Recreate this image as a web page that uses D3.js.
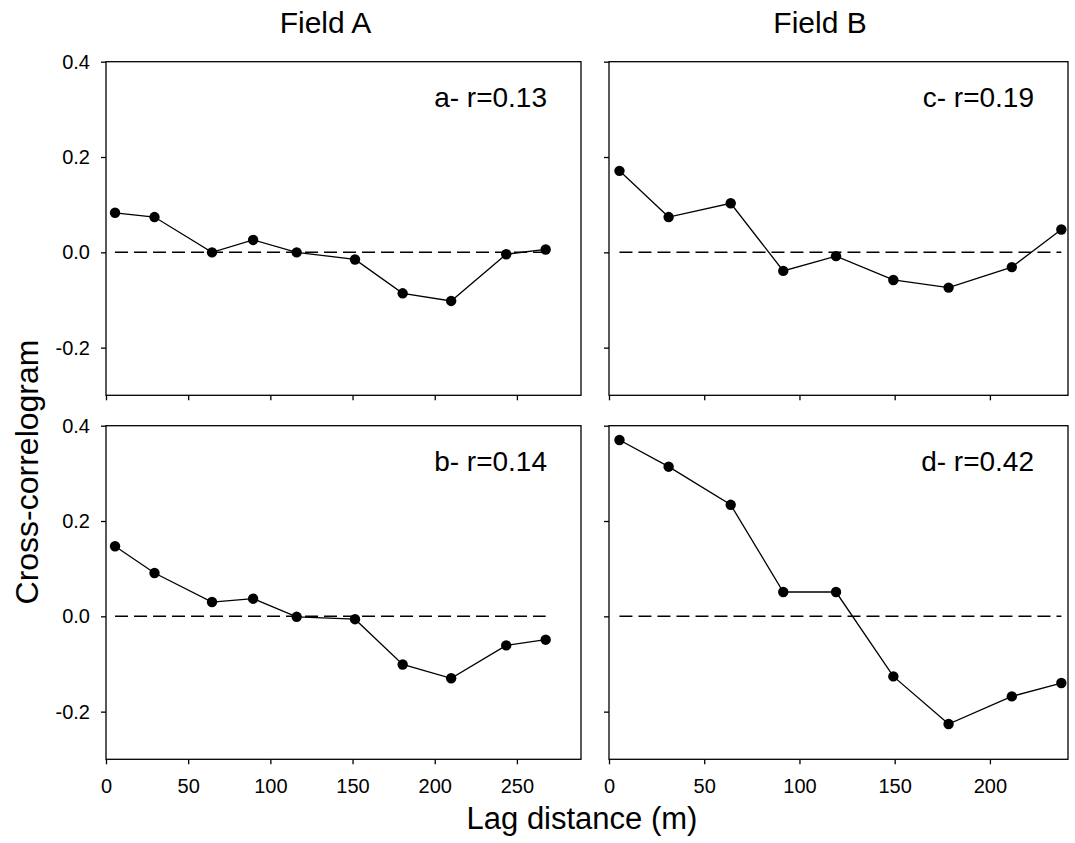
<!DOCTYPE html>
<html>
<head>
<meta charset="utf-8">
<script src="https://cdn.jsdelivr.net/npm/d3@7"></script>
<style>
  html, body { margin: 0; padding: 0; background: #fff; }
  svg { display: block; font-family: "Liberation Sans", Arial, sans-serif; }
</style>
</head>
<body>
<svg id="chart" width="1075" height="843"></svg>
<script>
// Lag distances (m) for each field
const lagsFieldA = [5.5, 29.5, 64.5, 89.5, 116, 151.5, 180.5, 210, 243.5, 267.5];
const lagsFieldB = [5.5, 31.3, 63.9, 91.5, 119.2, 149.3, 178.3, 211.5, 237.5];

// Cross-correlogram values per panel
const seriesA = [0.083, 0.074, 0.0, 0.026, 0.0, -0.015, -0.086, -0.102, -0.004, 0.006];
const seriesB = [0.147, 0.091, 0.030, 0.037, -0.001, -0.006, -0.101, -0.130, -0.061, -0.049];
const seriesC = [0.171, 0.074, 0.103, -0.039, -0.008, -0.058, -0.074, -0.031, 0.048];
const seriesD = [0.370, 0.314, 0.234, 0.051, 0.051, -0.126, -0.226, -0.168, -0.140];

const panelLabels = ["a- r=0.13", "b- r=0.14", "c- r=0.19", "d- r=0.42"];
const columnTitles = ["Field A", "Field B"];
const yTickValues = [-0.2, 0.0, 0.2, 0.4];
const xTicksFieldA = [0, 50, 100, 150, 200, 250];
const xTicksFieldB = [0, 50, 100, 150, 200];

const svg = d3.select("#chart");

// Panel frames
const cols = [
  { x0: 106, x1: 581, domain: [0, 289], lags: lagsFieldA, ticks: xTicksFieldA, titleX: 325.5 },
  { x0: 609, x1: 1068, domain: [0, 241], lags: lagsFieldB, ticks: xTicksFieldB, titleX: 820 }
];
const rows = [
  { y0: 61.7, y1: 395.3 },
  { y0: 425.7, y1: 759.3 }
];

const panels = [
  { col: 0, row: 0, values: seriesA, label: panelLabels[0] },
  { col: 0, row: 1, values: seriesB, label: panelLabels[1] },
  { col: 1, row: 0, values: seriesC, label: panelLabels[2] },
  { col: 1, row: 1, values: seriesD, label: panelLabels[3] }
];

// plain hyphen for negatives, one decimal
const fmtY = d => (Math.abs(d) < 1e-9 ? 0 : d).toFixed(1);

panels.forEach(p => {
  const c = cols[p.col], r = rows[p.row];
  const x = d3.scaleLinear().domain(c.domain).range([c.x0, c.x1]);
  const y = d3.scaleLinear().domain([-0.3, 0.4]).range([r.y1, r.y0]);
  const g = svg.append("g");

  // frame
  g.append("rect")
    .attr("x", c.x0).attr("y", r.y0)
    .attr("width", c.x1 - c.x0).attr("height", r.y1 - r.y0)
    .attr("fill", "none").attr("stroke", "#000").attr("stroke-width", 1.3);

  // y axis
  const yAxis = d3.axisLeft(y).tickValues(yTickValues).tickSize(5).tickPadding(11)
    .tickFormat(fmtY);
  const ya = g.append("g").attr("transform", `translate(${c.x0},0)`).call(yAxis);
  ya.select(".domain").remove();
  ya.selectAll("line").attr("stroke", "#000").attr("stroke-width", 1.3);
  ya.selectAll("text").attr("font-size", 20).attr("fill", "#000");
  if (p.col !== 0) ya.selectAll("text").remove();

  // x axis
  const xAxis = d3.axisBottom(x).tickValues(c.ticks).tickSize(5).tickPadding(15);
  const xa = g.append("g").attr("transform", `translate(0,${r.y1})`).call(xAxis);
  xa.select(".domain").remove();
  xa.selectAll("line").attr("stroke", "#000").attr("stroke-width", 1.3);
  xa.selectAll("text").attr("font-size", 20).attr("fill", "#000");
  if (p.row === 0) xa.selectAll("text").remove();

  // zero reference line across the lag range
  const lagExtent = d3.extent(c.lags);
  g.append("line")
    .attr("x1", x(lagExtent[0])).attr("x2", x(lagExtent[1]))
    .attr("y1", y(0)).attr("y2", y(0))
    .attr("stroke", "#000").attr("stroke-width", 1.5)
    .attr("stroke-dasharray", "13,6");

  const pts = p.values.map((v, i) => [c.lags[i], v]);

  g.append("path")
    .datum(pts)
    .attr("fill", "none").attr("stroke", "#000").attr("stroke-width", 1.3)
    .attr("d", d3.line().x(d => x(d[0])).y(d => y(d[1])));

  g.selectAll("circle.pt").data(pts).enter().append("circle")
    .attr("class", "pt")
    .attr("cx", d => x(d[0])).attr("cy", d => y(d[1])).attr("r", 5.2)
    .attr("fill", "#000");

  g.append("text")
    .attr("x", c.x1 - 34).attr("y", r.y0 + 45)
    .attr("text-anchor", "end").attr("font-size", 28).attr("fill", "#000")
    .text(p.label);
});

// column titles
columnTitles.forEach((t, i) => {
  svg.append("text")
    .attr("x", cols[i].titleX).attr("y", 33)
    .attr("text-anchor", "middle").attr("font-size", 30).attr("fill", "#000")
    .text(t);
});

// axis titles
svg.append("text")
  .attr("x", 582).attr("y", 829)
  .attr("text-anchor", "middle").attr("font-size", 31).attr("fill", "#000")
  .text("Lag distance (m)");

svg.append("text")
  .attr("transform", "translate(38,472) rotate(-90)")
  .attr("text-anchor", "middle").attr("font-size", 32).attr("fill", "#000")
  .text("Cross-correlogram");
</script>
</body>
</html>
